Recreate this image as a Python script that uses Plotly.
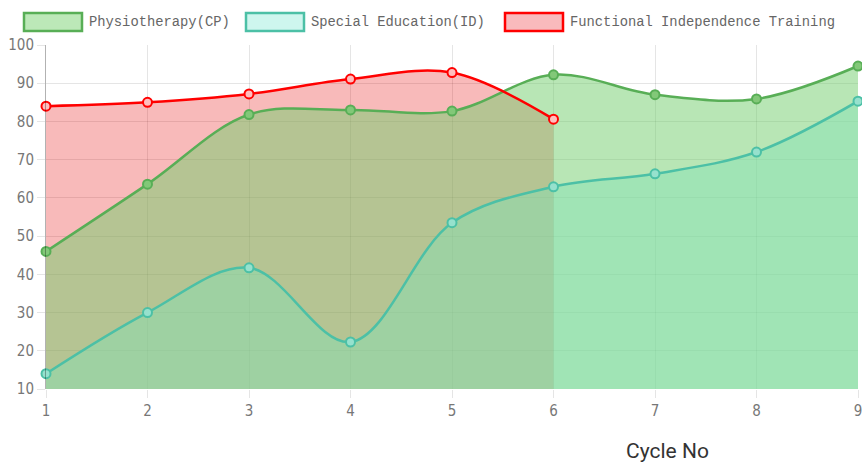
import plotly.graph_objects as go

cycles = [1, 2, 3, 4, 5, 6, 7, 8, 9]
physio_cp = [46, 63.6, 81.8, 83, 82.7, 92.2, 87, 85.9, 94.5]
special_ed_id = [14, 30, 41.7, 22.3, 53.5, 62.9, 66.3, 72, 85.3]
fit_cycles = [1, 2, 3, 4, 5, 6]
functional_ind = [84, 85, 87.2, 91.1, 92.8, 80.6]

series_names = ["Physiotherapy(CP)", "Special Education(ID)", "Functional Independence Training"]
line_colors = ["rgb(88,174,86)", "rgb(76,192,166)", "rgb(255,0,0)"]
fill_colors = ["rgba(115,206,109,0.51)", "rgba(146,246,255,0.45)", "rgba(229,0,0,0.27)"]
legend_fills = ["rgb(188,232,184)", "rgb(206,246,238)", "rgb(249,186,188)"]
marker_fills = ["rgb(130,200,120)", "rgb(150,225,205)", "rgb(255,190,190)"]

series_x = [cycles, cycles, fit_cycles]
series_y = [physio_cp, special_ed_id, functional_ind]

tick_font = dict(family="Liberation Sans Narrow, DejaVu Sans Condensed, sans-serif", size=15, color="#777")

fig = go.Figure()

# fills: drawn bottom to top (FIT, Special Ed, Physio)
for i in [2, 1, 0]:
    fig.add_trace(go.Scatter(
        x=series_x[i], y=series_y[i], mode="lines",
        line=dict(color="rgba(0,0,0,0)", width=0, shape="spline", smoothing=1.0),
        fill="tozeroy", fillcolor=fill_colors[i], showlegend=False, hoverinfo="skip",
    ))

# lines + markers on top
for i in [1, 0, 2]:
    fig.add_trace(go.Scatter(
        x=series_x[i], y=series_y[i], name=series_names[i], mode="lines+markers",
        line=dict(color=line_colors[i], width=2.5, shape="spline", smoothing=1.0),
        marker=dict(size=9, color=marker_fills[i], line=dict(color=line_colors[i], width=2)),
        showlegend=False, cliponaxis=False,
    ))

W, H = 862, 470
L, R, T, B = 46, 4, 45, 81
pw, ph = W - L - R, H - T - B
def px2paper_x(px):
    return (px - L) / pw
def px2paper_y(py):
    return (H - B - py) / ph

legend_x = [24, 246, 505]
shapes = []
annotations = []
for i, lx in enumerate(legend_x):
    shapes.append(dict(type="rect", xref="paper", yref="paper",
                       x0=px2paper_x(lx), x1=px2paper_x(lx + 58),
                       y0=px2paper_y(31), y1=px2paper_y(13),
                       fillcolor=legend_fills[i], line=dict(color=line_colors[i], width=2.5)))
    annotations.append(dict(xref="paper", yref="paper", x=px2paper_x(lx + 63), y=px2paper_y(22),
                            xanchor="left", yanchor="middle", showarrow=False,
                            text=series_names[i],
                            font=dict(family="Liberation Mono, DejaVu Sans Mono, monospace", size=13.8, color="#666")))

annotations.append(dict(xref="paper", yref="paper", x=px2paper_x(667), y=px2paper_y(451),
                        xanchor="center", yanchor="middle", showarrow=False, text="Cycle No",
                        font=dict(family="Roboto, sans-serif", size=21, color="#333")))

fig.update_layout(
    width=W, height=H,
    margin=dict(l=L, r=R, t=T, b=B),
    paper_bgcolor="white", plot_bgcolor="white",
    shapes=shapes, annotations=annotations,
    xaxis=dict(range=[1, 9], tickmode="linear", dtick=1, showgrid=True,
               gridcolor="rgba(0,0,0,0.1)", ticks="outside", ticklen=8,
               tickcolor="rgba(0,0,0,0.1)", tickfont=tick_font, zeroline=False,
               showline=False, automargin=False, ticklabeloverflow="allow"),
    yaxis=dict(range=[10, 100], tickmode="linear", dtick=10, showgrid=True,
               gridcolor="rgba(0,0,0,0.1)", ticks="outside", ticklen=8,
               tickcolor="rgba(0,0,0,0.1)", tickfont=tick_font, zeroline=False,
               showline=True, linecolor="rgba(0,0,0,0.3)", linewidth=1, automargin=False,
               ticklabeloverflow="allow"),
)

fig.write_html("out.html", config={"displayModeBar": False},
               post_script="document.body.style.margin='0';document.body.style.overflow='hidden';")
